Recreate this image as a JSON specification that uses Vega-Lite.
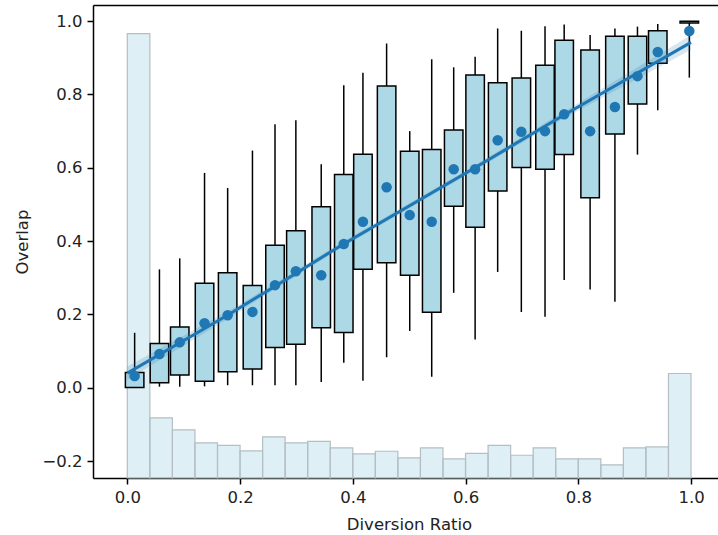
{
  "$schema": "https://vega.github.io/schema/vega-lite/v6.json",
  "autosize": {"type": "none"},
  "padding": {"left": 93, "top": 5, "right": 0, "bottom": 57},
  "width": 625,
  "height": 473,
  "background": "white",
  "config": {
    "view": {"stroke": null},
    "font": "DejaVu Sans",
    "axis": {
      "grid": false,
      "domainColor": "#000000",
      "domainWidth": 1.5,
      "tickColor": "#000000",
      "tickWidth": 1.5,
      "tickSize": 6,
      "labelFont": "DejaVu Sans",
      "labelFontSize": 16.5,
      "labelColor": "#222222",
      "labelPadding": 5,
      "titleFont": "DejaVu Sans",
      "titleFontSize": 16.5,
      "titleFontWeight": "normal",
      "titleColor": "#222222"
    }
  },
  "datasets": {
    "hist": [
      {"start": 0.00, "end": 0.04, "top": 0.966},
      {"start": 0.04, "end": 0.08, "top": -0.082},
      {"start": 0.08, "end": 0.12, "top": -0.115},
      {"start": 0.12, "end": 0.16, "top": -0.150},
      {"start": 0.16, "end": 0.20, "top": -0.157},
      {"start": 0.20, "end": 0.24, "top": -0.172},
      {"start": 0.24, "end": 0.28, "top": -0.134},
      {"start": 0.28, "end": 0.32, "top": -0.150},
      {"start": 0.32, "end": 0.36, "top": -0.146},
      {"start": 0.36, "end": 0.40, "top": -0.164},
      {"start": 0.40, "end": 0.44, "top": -0.180},
      {"start": 0.44, "end": 0.48, "top": -0.173},
      {"start": 0.48, "end": 0.52, "top": -0.191},
      {"start": 0.52, "end": 0.56, "top": -0.164},
      {"start": 0.56, "end": 0.60, "top": -0.194},
      {"start": 0.60, "end": 0.64, "top": -0.179},
      {"start": 0.64, "end": 0.68, "top": -0.157},
      {"start": 0.68, "end": 0.72, "top": -0.184},
      {"start": 0.72, "end": 0.76, "top": -0.164},
      {"start": 0.76, "end": 0.80, "top": -0.194},
      {"start": 0.80, "end": 0.84, "top": -0.194},
      {"start": 0.84, "end": 0.88, "top": -0.210},
      {"start": 0.88, "end": 0.92, "top": -0.164},
      {"start": 0.92, "end": 0.96, "top": -0.161},
      {"start": 0.96, "end": 1.00, "top": 0.039}
    ],
    "boxes": [
      {"ratio": 0.013, "wlo": 0.000, "q1": 0.001, "q3": 0.042, "whi": 0.150, "mean": 0.032},
      {"ratio": 0.057, "wlo": 0.003, "q1": 0.014, "q3": 0.121, "whi": 0.323, "mean": 0.092},
      {"ratio": 0.093, "wlo": 0.003, "q1": 0.035, "q3": 0.166, "whi": 0.353, "mean": 0.124},
      {"ratio": 0.137, "wlo": 0.004, "q1": 0.018, "q3": 0.285, "whi": 0.586, "mean": 0.176},
      {"ratio": 0.178, "wlo": 0.007, "q1": 0.044, "q3": 0.314, "whi": 0.545, "mean": 0.198},
      {"ratio": 0.222, "wlo": 0.007, "q1": 0.051, "q3": 0.279, "whi": 0.647, "mean": 0.207},
      {"ratio": 0.262, "wlo": 0.007, "q1": 0.110, "q3": 0.389, "whi": 0.719, "mean": 0.280},
      {"ratio": 0.299, "wlo": 0.007, "q1": 0.119, "q3": 0.428, "whi": 0.730, "mean": 0.318},
      {"ratio": 0.344, "wlo": 0.016, "q1": 0.164, "q3": 0.494, "whi": 0.610, "mean": 0.307},
      {"ratio": 0.384, "wlo": 0.068, "q1": 0.151, "q3": 0.582, "whi": 0.825, "mean": 0.392},
      {"ratio": 0.418, "wlo": 0.019, "q1": 0.323, "q3": 0.637, "whi": 0.859, "mean": 0.453},
      {"ratio": 0.460, "wlo": 0.083, "q1": 0.341, "q3": 0.823, "whi": 0.939, "mean": 0.547},
      {"ratio": 0.501, "wlo": 0.155, "q1": 0.307, "q3": 0.645, "whi": 0.700, "mean": 0.471},
      {"ratio": 0.540, "wlo": 0.030, "q1": 0.206, "q3": 0.650, "whi": 0.896, "mean": 0.453},
      {"ratio": 0.579, "wlo": 0.259, "q1": 0.495, "q3": 0.703, "whi": 0.874, "mean": 0.596},
      {"ratio": 0.617, "wlo": 0.132, "q1": 0.438, "q3": 0.853, "whi": 0.903, "mean": 0.596},
      {"ratio": 0.657, "wlo": 0.316, "q1": 0.537, "q3": 0.832, "whi": 0.980, "mean": 0.675},
      {"ratio": 0.699, "wlo": 0.207, "q1": 0.601, "q3": 0.845, "whi": 0.974, "mean": 0.698},
      {"ratio": 0.741, "wlo": 0.194, "q1": 0.596, "q3": 0.880, "whi": 0.986, "mean": 0.700},
      {"ratio": 0.775, "wlo": 0.294, "q1": 0.636, "q3": 0.948, "whi": 0.991, "mean": 0.746},
      {"ratio": 0.821, "wlo": 0.268, "q1": 0.518, "q3": 0.921, "whi": 0.962, "mean": 0.700},
      {"ratio": 0.865, "wlo": 0.235, "q1": 0.692, "q3": 0.959, "whi": 0.980, "mean": 0.766},
      {"ratio": 0.905, "wlo": 0.636, "q1": 0.774, "q3": 0.959, "whi": 0.985, "mean": 0.850},
      {"ratio": 0.941, "wlo": 0.757, "q1": 0.885, "q3": 0.974, "whi": 0.992, "mean": 0.916},
      {"ratio": 0.997, "wlo": 0.846, "q1": 0.995, "q3": 1.000, "whi": 1.000, "mean": 0.973}
    ],
    "fit": [
      {"ratio": 0.00, "fit": 0.040, "lo": 0.022, "hi": 0.058},
      {"ratio": 0.18, "fit": 0.200, "lo": 0.190, "hi": 0.210},
      {"ratio": 0.26, "fit": 0.275, "lo": 0.267, "hi": 0.283},
      {"ratio": 0.38, "fit": 0.389, "lo": 0.382, "hi": 0.396},
      {"ratio": 0.60, "fit": 0.585, "lo": 0.578, "hi": 0.592},
      {"ratio": 0.77, "fit": 0.740, "lo": 0.731, "hi": 0.749},
      {"ratio": 1.00, "fit": 0.942, "lo": 0.922, "hi": 0.962}
    ]
  },
  "resolve": {"axis": {"x": "independent", "y": "independent"}},
  "layer": [
    {
      "data": {"name": "hist"},
      "mark": {"type": "rect", "fill": "#add8e6", "fillOpacity": 0.4, "stroke": "#b4bec3", "strokeWidth": 1.2},
      "encoding": {
        "x": {"field": "start", "type": "quantitative",
              "scale": {"domain": [-0.052, 1.039], "nice": false, "zero": false},
              "axis": {"orient": "bottom", "values": [0, 0.2, 0.4, 0.6, 0.8, 1.0], "format": ".1f",
                       "title": "Diversion Ratio", "titleX": 316, "titleY": 51.7,
                       "titleBaseline": "alphabetic", "titleAlign": "center"}},
        "x2": {"field": "end"},
        "y": {"field": "top", "type": "quantitative",
              "scale": {"domain": [-0.246, 1.044], "nice": false, "zero": false},
              "axis": {"orient": "left", "values": [-0.2, 0, 0.2, 0.4, 0.6, 0.8, 1.0], "format": ".1f",
                       "title": "Overlap", "titleX": -66, "titleY": 236.5,
                       "titleBaseline": "alphabetic", "titleAlign": "center", "titleAngle": -90}},
        "y2": {"datum": -0.246}
      }
    },
    {
      "data": {"name": "boxes"},
      "mark": {"type": "rule", "color": "#000000", "strokeWidth": 1.5},
      "encoding": {
        "x": {"field": "ratio", "type": "quantitative", "scale": {"domain": [-0.052, 1.039], "nice": false, "zero": false}, "axis": null},
        "y": {"field": "wlo", "type": "quantitative", "scale": {"domain": [-0.246, 1.044], "nice": false, "zero": false}, "axis": null},
        "y2": {"field": "whi"}
      }
    },
    {
      "data": {"name": "boxes"},
      "mark": {"type": "bar", "width": 18.5, "fill": "#add8e6", "stroke": "#000000", "strokeWidth": 1.5},
      "encoding": {
        "x": {"field": "ratio", "type": "quantitative", "scale": {"domain": [-0.052, 1.039], "nice": false, "zero": false}, "axis": null},
        "y": {"field": "q1", "type": "quantitative", "scale": {"domain": [-0.246, 1.044], "nice": false, "zero": false}, "axis": null},
        "y2": {"field": "q3"}
      }
    },
    {
      "data": {"name": "fit"},
      "mark": {"type": "area", "color": "#1f77b4", "opacity": 0.18},
      "encoding": {
        "x": {"field": "ratio", "type": "quantitative", "scale": {"domain": [-0.052, 1.039], "nice": false, "zero": false}, "axis": null},
        "y": {"field": "lo", "type": "quantitative", "scale": {"domain": [-0.246, 1.044], "nice": false, "zero": false}, "axis": null},
        "y2": {"field": "hi"}
      }
    },
    {
      "data": {"name": "fit"},
      "mark": {"type": "line", "color": "#1f77b4", "strokeWidth": 3},
      "encoding": {
        "x": {"field": "ratio", "type": "quantitative", "scale": {"domain": [-0.052, 1.039], "nice": false, "zero": false},
              "axis": {"orient": "top", "labels": false, "ticks": false, "domain": true, "title": null, "grid": false}},
        "y": {"field": "fit", "type": "quantitative", "scale": {"domain": [-0.246, 1.044], "nice": false, "zero": false}, "axis": null}
      }
    },
    {
      "data": {"name": "boxes"},
      "mark": {"type": "point", "filled": true, "color": "#1f77b4", "opacity": 1, "size": 110},
      "encoding": {
        "x": {"field": "ratio", "type": "quantitative", "scale": {"domain": [-0.052, 1.039], "nice": false, "zero": false}, "axis": null},
        "y": {"field": "mean", "type": "quantitative", "scale": {"domain": [-0.246, 1.044], "nice": false, "zero": false}, "axis": null}
      }
    }
  ]
}
